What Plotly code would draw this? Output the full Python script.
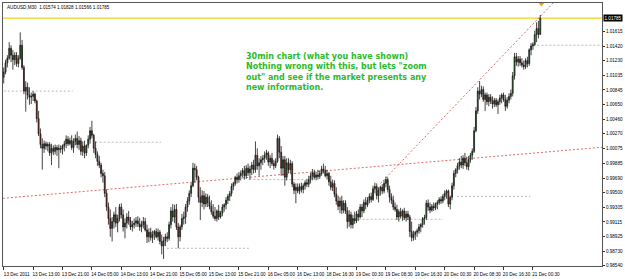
import plotly.graph_objects as go

# ---------------- data (AUDUSD, M30, 293 bars) ----------------
opens = [
    1.0101, 1.0108, 1.0120, 1.0126, 1.0139, 1.0130, 1.0124, 1.0130, 1.0119, 1.0126,
    1.0143, 1.0114, 1.0083, 1.0088, 1.0078, 1.0075, 1.0076, 1.0079, 1.0070, 1.0047,
    1.0027, 1.0013, 1.0008, 1.0014, 1.0011, 1.0013, 1.0002, 1.0008, 1.0004, 1.0009,
    1.0006, 1.0008, 1.0007, 1.0011, 1.0014, 1.0020, 1.0014, 1.0018, 1.0009, 1.0017,
    1.0021, 1.0013, 1.0018, 1.0004, 1.0011, 1.0002, 1.0012, 1.0020, 1.0031, 1.0025,
    1.0008, 1.0000, 0.9991, 0.9986, 0.9975, 0.9972, 0.9949, 0.9931, 0.9916, 0.9903,
    0.9912, 0.9921, 0.9910, 0.9916, 0.9931, 0.9921, 0.9905, 0.9910, 0.9918, 0.9913,
    0.9905, 0.9908, 0.9910, 0.9913, 0.9909, 0.9905, 0.9908, 0.9912, 0.9901, 0.9892,
    0.9898, 0.9891, 0.9895, 0.9899, 0.9892, 0.9898, 0.9886, 0.9880, 0.9887, 0.9892,
    0.9890, 0.9908, 0.9926, 0.9918, 0.9928, 0.9905, 0.9892, 0.9905, 0.9916, 0.9918,
    0.9931, 0.9939, 0.9949, 0.9959, 0.9982, 0.9980, 0.9970, 0.9944, 0.9937, 0.9946,
    0.9935, 0.9944, 0.9937, 0.9932, 0.9925, 0.9919, 0.9916, 0.9926, 0.9918, 0.9923,
    0.9931, 0.9934, 0.9940, 0.9945, 0.9949, 0.9958, 0.9962, 0.9970, 0.9967, 0.9972,
    0.9975, 0.9979, 0.9972, 0.9982, 0.9976, 0.9981, 0.9986, 0.9980, 0.9999, 0.9985,
    0.9989, 0.9993, 0.9995, 0.9999, 1.0002, 0.9990, 0.9995, 0.9988, 0.9985, 0.9991,
    1.0021, 1.0003, 0.9982, 0.9993, 0.9970, 0.9989, 0.9980, 0.9988, 0.9961, 0.9953,
    0.9957, 0.9952, 0.9958, 0.9954, 0.9959, 0.9963, 0.9961, 0.9967, 0.9972, 0.9976,
    0.9970, 0.9973, 0.9971, 0.9975, 0.9981, 0.9979, 0.9972, 0.9975, 0.9964, 0.9957,
    0.9962, 0.9948, 0.9939, 0.9932, 0.9939, 0.9927, 0.9936, 0.9926, 0.9912, 0.9921,
    0.9908, 0.9916, 0.9913, 0.9922, 0.9918, 0.9931, 0.9926, 0.9937, 0.9934, 0.9940,
    0.9945, 0.9941, 0.9955, 0.9958, 0.9946, 0.9953, 0.9957, 0.9952, 0.9962, 0.9967,
    0.9954, 0.9944, 0.9940, 0.9931, 0.9928, 0.9918, 0.9925, 0.9919, 0.9926, 0.9917,
    0.9922, 0.9918, 0.9899, 0.9891, 0.9895, 0.9898, 0.9900, 0.9905, 0.9908, 0.9916,
    0.9917, 0.9936, 0.9931, 0.9927, 0.9932, 0.9930, 0.9935, 0.9937, 0.9941, 0.9939,
    0.9945, 0.9949, 0.9952, 0.9935, 0.9944, 0.9959, 0.9975, 0.9980, 0.9985, 0.9990,
    0.9986, 0.9995, 0.9989, 0.9984, 0.9993, 0.9999, 1.0004, 1.0031, 1.0057, 1.0083,
    1.0079, 1.0085, 1.0072, 1.0078, 1.0069, 1.0075, 1.0070, 1.0066, 1.0071, 1.0065,
    1.0069, 1.0074, 1.0078, 1.0072, 1.0063, 1.0071, 1.0076, 1.0080, 1.0103, 1.0128,
    1.0121, 1.0125, 1.0120, 1.0117, 1.0115, 1.0123, 1.0119, 1.0137, 1.0142, 1.0144,
    1.0157, 1.0165, 1.01574,
]
highs = [
    1.0114, 1.0124, 1.0130, 1.0147, 1.0143, 1.0137, 1.0134, 1.0134, 1.0130, 1.0160,
    1.0150, 1.0117, 1.0096, 1.0094, 1.0088, 1.0081, 1.0083, 1.0081, 1.0072, 1.0057,
    1.0034, 1.0021, 1.0018, 1.0017, 1.0016, 1.0016, 1.0014, 1.0012, 1.0013, 1.0012,
    1.0013, 1.0012, 1.0013, 1.0018, 1.0025, 1.0024, 1.0022, 1.0025, 1.0021, 1.0026,
    1.0030, 1.0024, 1.0022, 1.0017, 1.0018, 1.0013, 1.0025, 1.0036, 1.0044, 1.0027,
    1.0017, 1.0004, 0.9998, 0.9989, 0.9980, 0.9977, 0.9954, 0.9937, 0.9928, 0.9918,
    0.9925, 0.9931, 0.9921, 0.9935, 0.9936, 0.9928, 0.9916, 0.9923, 0.9926, 0.9918,
    0.9913, 0.9916, 0.9918, 0.9919, 0.9917, 0.9913, 0.9918, 0.9917, 0.9908, 0.9903,
    0.9904, 0.9900, 0.9901, 0.9903, 0.9903, 0.9901, 0.9895, 0.9892, 0.9896, 0.9898,
    0.9912, 0.9931, 0.9935, 0.9934, 0.9935, 0.9910, 0.9908, 0.9922, 0.9925, 0.9935,
    0.9944, 0.9953, 0.9963, 0.9989, 0.9988, 0.9985, 0.9972, 0.9957, 0.9953, 0.9952,
    0.9949, 0.9948, 0.9946, 0.9940, 0.9935, 0.9931, 0.9928, 0.9934, 0.9926, 0.9935,
    0.9936, 0.9944, 0.9948, 0.9952, 0.9962, 0.9964, 0.9972, 0.9975, 0.9977, 0.9979,
    0.9982, 0.9985, 0.9986, 0.9988, 0.9985, 0.9990, 0.9993, 1.0017, 1.0008, 0.9995,
    0.9998, 0.9999, 1.0004, 1.0006, 1.0004, 0.9999, 1.0002, 0.9993, 0.9995, 1.0026,
    1.0024, 1.0011, 0.9998, 0.9998, 0.9995, 0.9995, 0.9993, 0.9991, 0.9964, 0.9962,
    0.9962, 0.9962, 0.9963, 0.9962, 0.9966, 0.9968, 0.9972, 0.9976, 0.9981, 0.9980,
    0.9977, 0.9980, 0.9979, 0.9985, 0.9988, 0.9985, 0.9980, 0.9977, 0.9972, 0.9967,
    0.9966, 0.9957, 0.9946, 0.9944, 0.9946, 0.9940, 0.9940, 0.9931, 0.9927, 0.9925,
    0.9921, 0.9925, 0.9926, 0.9928, 0.9935, 0.9935, 0.9941, 0.9944, 0.9944, 0.9949,
    0.9950, 0.9959, 0.9963, 0.9962, 0.9957, 0.9959, 0.9961, 0.9966, 0.9971, 0.9970,
    0.9959, 0.9949, 0.9946, 0.9937, 0.9934, 0.9928, 0.9930, 0.9928, 0.9930, 0.9926,
    0.9926, 0.9921, 0.9912, 0.9900, 0.9900, 0.9903, 0.9909, 0.9910, 0.9918, 0.9921,
    0.9940, 0.9941, 0.9937, 0.9935, 0.9937, 0.9937, 0.9940, 0.9944, 0.9945, 0.9948,
    0.9953, 0.9954, 0.9954, 0.9946, 0.9963, 0.9979, 0.9982, 0.9989, 0.9995, 0.9998,
    0.9999, 1.0002, 0.9997, 0.9998, 1.0002, 1.0008, 1.0036, 1.0062, 1.0088, 1.0096,
    1.0090, 1.0089, 1.0081, 1.0081, 1.0079, 1.0079, 1.0076, 1.0074, 1.0074, 1.0072,
    1.0078, 1.0080, 1.0081, 1.0078, 1.0075, 1.0080, 1.0085, 1.0108, 1.0133, 1.0133,
    1.0129, 1.0129, 1.0126, 1.0123, 1.0126, 1.0128, 1.0139, 1.0146, 1.0147, 1.0162,
    1.0173, 1.0175, 1.01828,
]
lows = [
    1.0093, 1.0105, 1.0114, 1.0124, 1.0121, 1.0111, 1.0117, 1.0115, 1.0114, 1.0124,
    1.0111, 1.0079, 1.0056, 1.0072, 1.0065, 1.0066, 1.0070, 1.0067, 1.0042, 1.0024,
    1.0008, 0.9980, 1.0002, 1.0006, 1.0004, 0.9998, 0.9986, 0.9999, 1.0000, 0.9998,
    0.9982, 1.0002, 1.0000, 1.0004, 1.0008, 1.0011, 1.0012, 1.0006, 1.0002, 1.0012,
    1.0008, 1.0006, 0.9999, 0.9998, 0.9995, 0.9998, 1.0008, 1.0014, 1.0021, 1.0002,
    0.9995, 0.9985, 0.9982, 0.9970, 0.9963, 0.9944, 0.9926, 0.9908, 0.9892, 0.9886,
    0.9903, 0.9905, 0.9898, 0.9912, 0.9916, 0.9899, 0.9890, 0.9903, 0.9908, 0.9901,
    0.9899, 0.9903, 0.9905, 0.9905, 0.9900, 0.9898, 0.9903, 0.9899, 0.9884, 0.9885,
    0.9887, 0.9884, 0.9888, 0.9890, 0.9887, 0.9882, 0.9869, 0.9863, 0.9880, 0.9885,
    0.9887, 0.9903, 0.9912, 0.9910, 0.9901, 0.9877, 0.9886, 0.9901, 0.9908, 0.9909,
    0.9925, 0.9934, 0.9944, 0.9957, 0.9963, 0.9966, 0.9937, 0.9914, 0.9931, 0.9928,
    0.9931, 0.9931, 0.9928, 0.9921, 0.9916, 0.9913, 0.9912, 0.9914, 0.9916, 0.9919,
    0.9925, 0.9928, 0.9935, 0.9939, 0.9945, 0.9953, 0.9959, 0.9962, 0.9963, 0.9966,
    0.9970, 0.9967, 0.9968, 0.9972, 0.9967, 0.9973, 0.9975, 0.9976, 0.9980, 0.9972,
    0.9980, 0.9986, 0.9989, 0.9993, 0.9985, 0.9982, 0.9985, 0.9980, 0.9982, 0.9989,
    0.9995, 0.9972, 0.9972, 0.9959, 0.9966, 0.9975, 0.9975, 0.9957, 0.9948, 0.9936,
    0.9949, 0.9948, 0.9950, 0.9949, 0.9954, 0.9957, 0.9957, 0.9962, 0.9966, 0.9967,
    0.9966, 0.9967, 0.9968, 0.9972, 0.9975, 0.9970, 0.9967, 0.9959, 0.9953, 0.9952,
    0.9944, 0.9934, 0.9927, 0.9923, 0.9922, 0.9923, 0.9922, 0.9903, 0.9905, 0.9903,
    0.9903, 0.9909, 0.9910, 0.9913, 0.9916, 0.9918, 0.9923, 0.9928, 0.9931, 0.9936,
    0.9937, 0.9939, 0.9949, 0.9941, 0.9937, 0.9946, 0.9948, 0.9949, 0.9957, 0.9950,
    0.9937, 0.9935, 0.9927, 0.9925, 0.9914, 0.9912, 0.9916, 0.9913, 0.9914, 0.9912,
    0.9914, 0.9892, 0.9886, 0.9887, 0.9888, 0.9892, 0.9896, 0.9898, 0.9904, 0.9908,
    0.9914, 0.9926, 0.9923, 0.9925, 0.9926, 0.9927, 0.9928, 0.9934, 0.9935, 0.9936,
    0.9940, 0.9942, 0.9931, 0.9928, 0.9940, 0.9954, 0.9970, 0.9975, 0.9980, 0.9982,
    0.9981, 0.9985, 0.9980, 0.9979, 0.9989, 0.9993, 1.0002, 1.0029, 1.0053, 1.0072,
    1.0075, 1.0069, 1.0057, 1.0065, 1.0063, 1.0066, 1.0060, 1.0062, 1.0062, 1.0053,
    1.0065, 1.0067, 1.0069, 1.0057, 1.0060, 1.0067, 1.0072, 1.0076, 1.0098, 1.0116,
    1.0115, 1.0116, 1.0114, 1.0111, 1.0112, 1.0114, 1.0116, 1.0130, 1.0137, 1.0142,
    1.0147, 1.0152, 1.01566,
]
closes = [
    1.0108, 1.0120, 1.0126, 1.0139, 1.0130, 1.0124, 1.0130, 1.0119, 1.0126, 1.0143,
    1.0114, 1.0083, 1.0088, 1.0078, 1.0075, 1.0076, 1.0079, 1.0070, 1.0047, 1.0027,
    1.0013, 1.0008, 1.0014, 1.0011, 1.0013, 1.0002, 1.0008, 1.0004, 1.0009, 1.0006,
    1.0008, 1.0007, 1.0011, 1.0014, 1.0020, 1.0014, 1.0018, 1.0009, 1.0017, 1.0021,
    1.0013, 1.0018, 1.0004, 1.0011, 1.0002, 1.0012, 1.0020, 1.0031, 1.0025, 1.0008,
    1.0000, 0.9991, 0.9986, 0.9975, 0.9972, 0.9949, 0.9931, 0.9916, 0.9903, 0.9912,
    0.9921, 0.9910, 0.9916, 0.9931, 0.9921, 0.9905, 0.9910, 0.9918, 0.9913, 0.9905,
    0.9908, 0.9910, 0.9913, 0.9909, 0.9905, 0.9908, 0.9912, 0.9901, 0.9892, 0.9898,
    0.9891, 0.9895, 0.9899, 0.9892, 0.9898, 0.9886, 0.9880, 0.9887, 0.9892, 0.9890,
    0.9908, 0.9926, 0.9918, 0.9928, 0.9905, 0.9892, 0.9905, 0.9916, 0.9918, 0.9931,
    0.9939, 0.9949, 0.9959, 0.9982, 0.9980, 0.9970, 0.9944, 0.9937, 0.9946, 0.9935,
    0.9944, 0.9937, 0.9932, 0.9925, 0.9919, 0.9916, 0.9926, 0.9918, 0.9923, 0.9931,
    0.9934, 0.9940, 0.9945, 0.9949, 0.9958, 0.9962, 0.9970, 0.9967, 0.9972, 0.9975,
    0.9979, 0.9972, 0.9982, 0.9976, 0.9981, 0.9986, 0.9980, 0.9999, 0.9985, 0.9989,
    0.9993, 0.9995, 0.9999, 1.0002, 0.9990, 0.9995, 0.9988, 0.9985, 0.9991, 1.0021,
    1.0003, 0.9982, 0.9993, 0.9970, 0.9989, 0.9980, 0.9988, 0.9961, 0.9953, 0.9957,
    0.9952, 0.9958, 0.9954, 0.9959, 0.9963, 0.9961, 0.9967, 0.9972, 0.9976, 0.9970,
    0.9973, 0.9971, 0.9975, 0.9981, 0.9979, 0.9972, 0.9975, 0.9964, 0.9957, 0.9962,
    0.9948, 0.9939, 0.9932, 0.9939, 0.9927, 0.9936, 0.9926, 0.9912, 0.9921, 0.9908,
    0.9916, 0.9913, 0.9922, 0.9918, 0.9931, 0.9926, 0.9937, 0.9934, 0.9940, 0.9945,
    0.9941, 0.9955, 0.9958, 0.9946, 0.9953, 0.9957, 0.9952, 0.9962, 0.9967, 0.9954,
    0.9944, 0.9940, 0.9931, 0.9928, 0.9918, 0.9925, 0.9919, 0.9926, 0.9917, 0.9922,
    0.9918, 0.9899, 0.9891, 0.9895, 0.9898, 0.9900, 0.9905, 0.9908, 0.9916, 0.9917,
    0.9936, 0.9931, 0.9927, 0.9932, 0.9930, 0.9935, 0.9937, 0.9941, 0.9939, 0.9945,
    0.9949, 0.9952, 0.9935, 0.9944, 0.9959, 0.9975, 0.9980, 0.9985, 0.9990, 0.9986,
    0.9995, 0.9989, 0.9984, 0.9993, 0.9999, 1.0004, 1.0031, 1.0057, 1.0083, 1.0079,
    1.0085, 1.0072, 1.0078, 1.0069, 1.0075, 1.0070, 1.0066, 1.0071, 1.0065, 1.0069,
    1.0074, 1.0078, 1.0072, 1.0063, 1.0071, 1.0076, 1.0080, 1.0103, 1.0128, 1.0121,
    1.0125, 1.0120, 1.0117, 1.0115, 1.0123, 1.0119, 1.0137, 1.0142, 1.0144, 1.0157,
    1.0165, 1.0157, 1.01785,
]
bar_index = list(range(len(closes)))

x_tick_bars = [0, 16, 32, 48, 64, 80, 96, 112, 128, 144, 160, 176, 192, 208, 224, 240, 256, 272, 288]
x_tick_labels = ["13 Dec 2011", "13 Dec 13:00", "13 Dec 21:00", "14 Dec 05:00", "14 Dec 13:00",
                 "14 Dec 21:00", "15 Dec 05:00", "15 Dec 13:00", "15 Dec 21:00", "16 Dec 05:00",
                 "16 Dec 13:00", "18 Dec 16:30", "19 Dec 00:30", "19 Dec 08:30", "19 Dec 16:30",
                 "20 Dec 00:30", "20 Dec 08:30", "20 Dec 16:30", "21 Dec 00:30"]
y_tick_prices = [1.01615, 1.01420, 1.01230, 1.01035, 1.00845, 1.00650, 1.00460, 1.00270, 1.00075,
                 0.99885, 0.99690, 0.99500, 0.99305, 0.99115, 0.98925, 0.98730, 0.98540]
y_tick_labels = ["%.5f" % v for v in y_tick_prices]

header_text = "AUDUSD,M30  1.01574 1.01828 1.01566 1.01785"
bid_price = 1.01785
note_text = ('30min chart (what you have shown)<br>Nothing wrong with this, but lets "zoom<br>'
             'out" and see if the market presents any<br>new information.')

# drawn objects (bar index, price)
trend_long = [(-0.4, 0.99425), (325.6, 1.00094)]
trend_steep = [(205.0, 0.99618), (300.0, 1.02009)]
levels = [  # (from bar, to bar, price)
    (0.0, 37.5, 1.0083),
    (50.0, 85.6, 1.0016),
    (133.7, 164.5, 0.9967),
    (88.8, 133.7, 0.9877),
    (193.1, 239.1, 0.9915),
    (246.7, 286.6, 0.9945),
    (290.4, 325.6, 1.0143),
]
marker_bar, marker_price = 292.6, 1.0197

X_RANGE = [-0.38, 325.6]
Y_RANGE = [0.98538, 1.01984]

fig = go.Figure()
fig.add_trace(go.Candlestick(
    x=bar_index, open=opens, high=highs, low=lows, close=closes,
    increasing=dict(line=dict(color="#151515", width=0.8), fillcolor="#1f8a1f"),
    decreasing=dict(line=dict(color="#151515", width=0.8), fillcolor="#b01818"),
    whiskerwidth=0, hoverinfo="skip", showlegend=False,
))
fig.add_trace(go.Scatter(
    x=[marker_bar], y=[marker_price], mode="markers", cliponaxis=False,
    marker=dict(symbol="triangle-down", size=5, color="#e6a700"),
    hoverinfo="skip", showlegend=False,
))

shapes = []
shapes.append(dict(type="line", xref="x", yref="y", x0=X_RANGE[0], x1=X_RANGE[1],
                   y0=bid_price, y1=bid_price, line=dict(color="#f2d410", width=1.2), layer="below"))
for (xa, ya), (xb, yb) in [trend_long, trend_steep]:
    shapes.append(dict(type="line", xref="x", yref="y", x0=xa, y0=ya, x1=xb, y1=yb,
                       line=dict(color="#dd6a6a", width=1, dash="2px,2px"), layer="below"))
for xa, xb, p in levels:
    shapes.append(dict(type="line", xref="x", yref="y", x0=xa, y0=p, x1=xb, y1=p,
                       line=dict(color="#b8b8b8", width=1, dash="2px,2px"), layer="below"))

small_font = dict(family="Liberation Sans, Arial, sans-serif", size=4.6, color="#000000")

annotations = [
    dict(xref="paper", yref="paper", x=0.004, y=0.983, xanchor="left", yanchor="middle",
         text=header_text, showarrow=False, font=small_font),
    dict(xref="paper", yref="paper", x=0.403, y=0.823, xanchor="left", yanchor="top",
         text=note_text, align="left", showarrow=False,
         font=dict(family="DejaVu Sans, Verdana, sans-serif", size=8, color="#2dba2d", weight="bold")),
    dict(xref="paper", yref="y", x=1.0, y=bid_price, xanchor="left", yanchor="middle", xshift=1,
         text="%.5f" % bid_price, showarrow=False, bgcolor="#000000", borderpad=0.5,
         font=dict(family="Liberation Sans, Arial, sans-serif", size=4.6, color="#ffffff")),
]

fig.update_layout(
    width=625, height=279,
    margin=dict(l=2, r=20, t=2, b=9),
    paper_bgcolor="#ffffff", plot_bgcolor="#ffffff",
    shapes=shapes, annotations=annotations, showlegend=False,
    xaxis=dict(range=X_RANGE, rangeslider=dict(visible=False), tickmode="array",
               tickvals=x_tick_bars, ticktext=x_tick_labels, ticks="outside", ticklen=3,
               tickangle=0, tickcolor="#333333", tickfont=small_font, ticklabelshift=13,
               showline=True, linecolor="#555555", linewidth=1, mirror=True,
               showgrid=False, zeroline=False, fixedrange=True),
    yaxis=dict(range=Y_RANGE, side="right", tickmode="array", tickvals=y_tick_prices,
               ticktext=y_tick_labels, ticks="outside", ticklen=2, tickcolor="#333333",
               tickfont=small_font, showline=True, linecolor="#555555", linewidth=1,
               mirror=True, showgrid=False, zeroline=False, fixedrange=True),
)

fig.write_html("out.html")
